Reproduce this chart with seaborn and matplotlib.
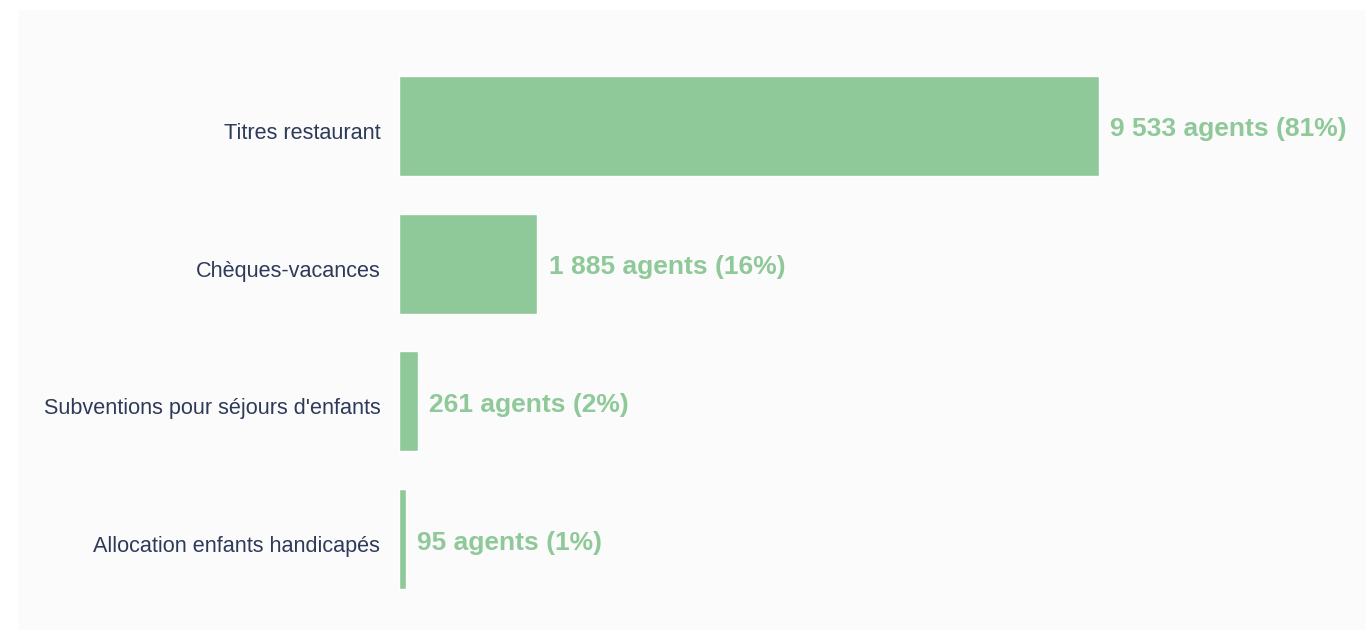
import numpy as np
import pandas as pd
import matplotlib
matplotlib.use('Agg')
import matplotlib.pyplot as plt
import matplotlib.transforms as mtransforms
import seaborn as sns

categories = ['Titres restaurant', 'Chèques-vacances',
              "Subventions pour séjours d'enfants", 'Allocation enfants handicapés']
agents = [9533, 1885, 261, 95]
percents = [81, 16, 2, 1]

bar_color = '#8fc899'
text_color = '#2e3a59'

sns.set_theme(style='white')
plt.rcParams['font.family'] = ['Liberation Sans', 'DejaVu Sans']

df = pd.DataFrame({'categorie': categories, 'agents': agents})

fig = plt.figure(figsize=(13.66, 6.3), dpi=100)
fig.patch.set_facecolor('white')

# fond gris clair du panneau
bg = fig.add_axes([18 / 1366, 0, 1 - 18 / 1366, 620 / 630], zorder=-1)
bg.set_facecolor('#fbfbfb')
bg.set_xticks([])
bg.set_yticks([])
for s in bg.spines.values():
    s.set_visible(False)

ax = fig.add_axes([399 / 1366, 22 / 630, 967 / 1366, 551 / 630])
ax.set_facecolor('none')

sns.barplot(data=df, y='categorie', x='agents', orient='h', color=bar_color,
            saturation=1, width=0.726, ax=ax)

ax.set_xlim(0, 9533 * 967 / 700)
ax.set_ylim(3.5, -0.5)
ax.set_xlabel('')
ax.set_ylabel('')
ax.set_xticks([])
ax.tick_params(axis='y', length=0, pad=13.5, labelsize=15.6, labelcolor=text_color)
for s in ax.spines.values():
    s.set_visible(False)

# libellés un peu plus bas que le centre des barres
shift = mtransforms.ScaledTranslation(0, -5 / 100, fig.dpi_scale_trans)
for lab in ax.get_yticklabels():
    lab.set_transform(lab.get_transform() + shift)

def fmt(n):
    return f'{n:,}'.replace(',', ' ')

for i, (n, p) in enumerate(zip(agents, percents)):
    ax.annotate(f'{fmt(n)} agents ({p}%)', xy=(n, i), xytext=(8, -2.5),
                textcoords='offset points', va='center', ha='left',
                fontsize=19, fontweight='bold', color=bar_color)

fig.savefig('out.png', dpi=100)
